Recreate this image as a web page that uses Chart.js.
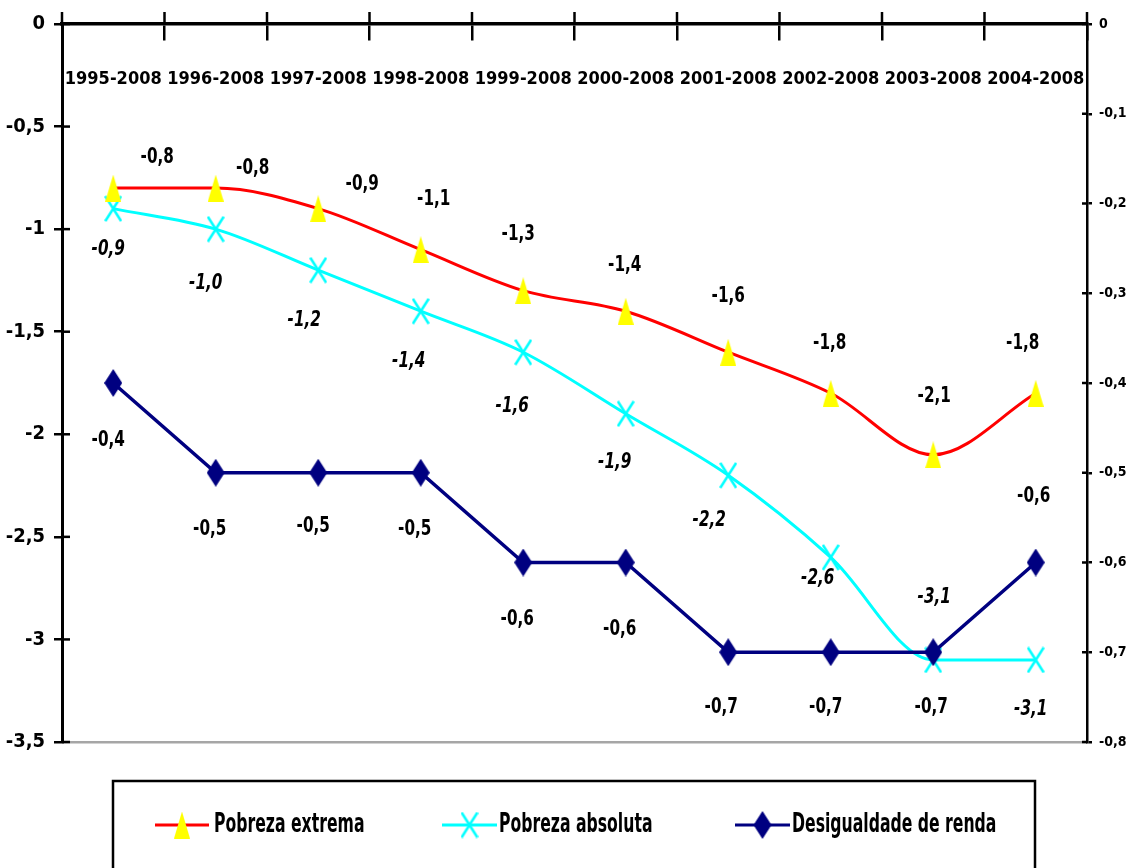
<!DOCTYPE html>
<html>
<head>
<meta charset="utf-8">
<script src="https://cdn.jsdelivr.net/npm/chart.js@4.4.1/dist/chart.umd.min.js"></script>
<style>
  html, body { margin: 0; padding: 0; background: #ffffff; }
  #wrap { width: 1132px; height: 868px; position: relative; overflow: hidden; }
  canvas { display: block; }
</style>
</head>
<body>
<div id="wrap"><canvas id="chart" width="1132" height="868"></canvas></div>
<script>
// ---------------- DATA ----------------
const categories = ['1995-2008', '1996-2008', '1997-2008', '1998-2008', '1999-2008',
                    '2000-2008', '2001-2008', '2002-2008', '2003-2008', '2004-2008'];
const pobrezaExtrema   = [-0.8, -0.8, -0.9, -1.1, -1.3, -1.4, -1.6, -1.8, -2.1, -1.8];
const pobrezaAbsoluta  = [-0.9, -1.0, -1.2, -1.4, -1.6, -1.9, -2.2, -2.6, -3.1, -3.1];
const desigualdadeRenda = [-0.4, -0.5, -0.5, -0.5, -0.6, -0.6, -0.7, -0.7, -0.7, -0.6];
const seriesNames = ['Pobreza extrema', 'Pobreza absoluta', 'Desigualdade de renda'];
const leftTicks  = { min: -3.5, max: 0, step: 0.5 };
const rightTicks = { min: -0.8, max: 0, step: 0.1 };

// ---------------- STYLE ----------------
const FONT = "'Liberation Sans Narrow', 'DejaVu Sans Condensed', 'Arial Narrow', sans-serif";
const RED = '#ff0000', YELLOW = '#ffff00', CYAN = '#00ffff', NAVY = '#000080';
// label nudges (dx, dy) relative to each point, in pixels
const labelNudgeExtrema  = [[44,-31],[37,-20],[44,-24],[13,-50],[-5,-56],[-1,-46],[0,-56],[-1,-50],[1,-59],[-13,-50]];
const labelNudgeAbsoluta = [[-5,41],[-10,54],[-14,50],[-12,50],[-11,54],[-11,49],[-19,45],[-13,21],[1,-63],[-5,49]];
const labelNudgeDesig    = [[-5,57],[-6,57],[-5,54],[-6,57],[-6,57],[-6,67],[-7,55],[-5,55],[-2,55],[-2,-66]];

function makeTriangle(w, h) {
  const c = document.createElement('canvas'); c.width = w; c.height = h;
  const g = c.getContext('2d');
  g.fillStyle = YELLOW;
  g.beginPath(); g.moveTo(w / 2, 0); g.lineTo(w, h); g.lineTo(0, h); g.closePath(); g.fill();
  return c;
}
function makeDiamond(w, h) {
  const c = document.createElement('canvas'); c.width = w; c.height = h;
  const g = c.getContext('2d');
  g.fillStyle = NAVY;
  g.beginPath(); g.moveTo(w / 2, 0); g.lineTo(w, h / 2); g.lineTo(w / 2, h); g.lineTo(0, h / 2); g.closePath(); g.fill();
  return c;
}
function makeCross(w, h) {
  const c = document.createElement('canvas'); c.width = w; c.height = h;
  const g = c.getContext('2d');
  g.strokeStyle = CYAN; g.lineWidth = 2.6; g.lineCap = 'butt';
  g.beginPath(); g.moveTo(1, 1); g.lineTo(w - 1, h - 1); g.moveTo(w - 1, 1); g.lineTo(1, h - 1); g.stroke();
  return c;
}
const triImg = makeTriangle(16, 27);
const diaImg = makeDiamond(18, 28);
const crossImg = makeCross(18, 27);

const fmtAxis = v => String(Math.round(v * 100) / 100).replace('.', ',');
const fmtLabel = v => v.toFixed(1).replace('.', ',');

// draw horizontally condensed text
function condensedText(ctx, text, x, y, sx) {
  ctx.save();
  ctx.translate(x, y);
  ctx.scale(sx, 1);
  ctx.fillText(text, 0, 0);
  ctx.restore();
}

// ---------------- PLUGINS ----------------
const crossTicks = {
  id: 'crossTicks',
  afterDraw(chart) {
    const ctx = chart.ctx, xs = chart.scales.x, yl = chart.scales.y, yr = chart.scales.y2;
    const a = chart.chartArea;
    ctx.save();
    ctx.strokeStyle = '#000'; ctx.lineWidth = 2.5;
    const half = (xs.getPixelForValue(1) - xs.getPixelForValue(0)) / 2;
    const y0 = yl.getPixelForValue(0);
    for (let i = 0; i <= categories.length; i++) {
      const x = xs.getPixelForValue(0) - half + i * 2 * half;
      ctx.beginPath(); ctx.moveTo(x, y0); ctx.lineTo(x, y0 - 12); ctx.stroke();
    }
    yl.ticks.forEach(t => {
      const y = yl.getPixelForValue(t.value);
      ctx.beginPath(); ctx.moveTo(a.left, y); ctx.lineTo(a.left + 8, y); ctx.stroke();
    });
    yr.ticks.forEach(t => {
      const y = yr.getPixelForValue(t.value);
      ctx.beginPath(); ctx.moveTo(a.right, y); ctx.lineTo(a.right - 5, y); ctx.stroke();
    });
    ctx.restore();
  }
};

const dataLabels = {
  id: 'dataLabels',
  afterDatasetsDraw(chart) {
    const ctx = chart.ctx;
    const nudges = [labelNudgeExtrema, labelNudgeAbsoluta, labelNudgeDesig];
    const italic = [false, true, false];
    ctx.save();
    ctx.fillStyle = '#000';
    ctx.textAlign = 'center';
    ctx.textBaseline = 'middle';
    chart.data.datasets.forEach((ds, i) => {
      const meta = chart.getDatasetMeta(i);
      ctx.font = (italic[i] ? 'italic ' : '') + 'bold 22px ' + FONT;
      meta.data.forEach((pt, j) => {
        const n = nudges[i][j];
        condensedText(ctx, fmtLabel(ds.data[j]), pt.x + n[0], pt.y + n[1], 0.77);
      });
    });
    ctx.restore();
  }
};

const boxLegend = {
  id: 'boxLegend',
  afterDraw(chart) {
    const ctx = chart.ctx;
    ctx.save();
    ctx.strokeStyle = '#000'; ctx.lineWidth = 2.5;
    ctx.strokeRect(113, 781, 922, 110);
    const items = [
      { x1: 155, x2: 209, color: RED, img: triImg, tx: 214 },
      { x1: 442, x2: 497, color: CYAN, img: crossImg, tx: 499 },
      { x1: 735, x2: 790, color: NAVY, img: diaImg, tx: 792 }
    ];
    const y = 825;
    ctx.font = 'bold 26px ' + FONT;
    ctx.textBaseline = 'middle'; ctx.textAlign = 'left'; ctx.fillStyle = '#000';
    items.forEach((it, i) => {
      ctx.strokeStyle = it.color; ctx.lineWidth = 3;
      ctx.beginPath(); ctx.moveTo(it.x1, y); ctx.lineTo(it.x2, y); ctx.stroke();
      const cx = (it.x1 + it.x2) / 2;
      ctx.drawImage(it.img, cx - it.img.width / 2, y - it.img.height / 2);
      condensedText(ctx, seriesNames[i], it.tx, y, 0.67);
    });
    ctx.restore();
  }
};

// ---------------- CHART ----------------
new Chart(document.getElementById('chart'), {
  type: 'line',
  data: {
    labels: categories,
    datasets: [
      { label: seriesNames[0], data: pobrezaExtrema, yAxisID: 'y', borderColor: RED, backgroundColor: RED,
        borderWidth: 3, pointStyle: triImg, pointRadius: 10, cubicInterpolationMode: 'monotone', tension: 0.4, order: 1 },
      { label: seriesNames[1], data: pobrezaAbsoluta, yAxisID: 'y', borderColor: CYAN, backgroundColor: CYAN,
        borderWidth: 3, pointStyle: crossImg, pointRadius: 10, cubicInterpolationMode: 'monotone', tension: 0.4, order: 2 },
      { label: seriesNames[2], data: desigualdadeRenda, yAxisID: 'y2', borderColor: NAVY, backgroundColor: NAVY,
        borderWidth: 3.5, pointStyle: diaImg, pointRadius: 10, tension: 0, order: 0 }
    ]
  },
  options: {
    responsive: false,
    animation: false,
    devicePixelRatio: 1,
    layout: { padding: { top: 24, bottom: 126, left: 0, right: 0 } },
    plugins: { legend: { display: false }, tooltip: { enabled: false } },
    scales: {
      x: {
        type: 'category',
        position: { y: 0 },
        offset: true,
        grid: { offset: true, drawOnChartArea: false, color: '#000', lineWidth: 2.5, tickLength: 15 },
        border: { color: '#000', width: 3.5 },
        ticks: { color: '#000', font: { family: FONT, size: 18, weight: 'bold' }, padding: 30,
                 maxRotation: 0, autoSkip: false }
      },
      y: {
        position: 'left',
        min: leftTicks.min, max: leftTicks.max,
        afterFit(s) { s.width = 62; },
        grid: {
          drawOnChartArea: true,
          color: c => (c.tick && Math.abs(c.tick.value - leftTicks.min) < 1e-9) ? '#a6a6a6' : 'rgba(0,0,0,0)',
          tickColor: '#000', lineWidth: 2.5, tickLength: 8
        },
        border: { color: '#000', width: 3 },
        ticks: { stepSize: leftTicks.step, color: '#000', padding: 9,
                 font: { family: FONT, size: 20, weight: 'bold' }, callback: v => fmtAxis(v) }
      },
      y2: {
        position: 'right',
        min: rightTicks.min, max: rightTicks.max,
        afterFit(s) { s.width = 45; },
        grid: { drawOnChartArea: false, color: '#000', tickColor: '#000', lineWidth: 2.5, tickLength: 5 },
        border: { color: '#000', width: 2.5 },
        ticks: { stepSize: rightTicks.step, color: '#000', padding: 7,
                 font: { family: FONT, size: 14, weight: 'bold' }, callback: v => fmtAxis(v) }
      }
    }
  },
  plugins: [crossTicks, dataLabels, boxLegend]
});
</script>
</body>
</html>
